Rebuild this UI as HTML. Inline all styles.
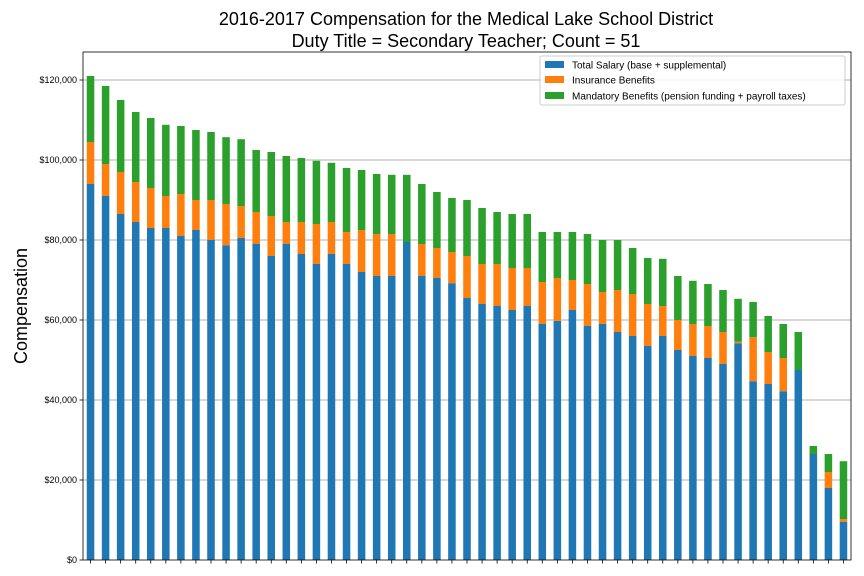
<!DOCTYPE html>
<html><head><meta charset="utf-8"><style>
body{margin:0;background:#fff;}
svg{display:block;font-family:"Liberation Sans","DejaVu Sans",sans-serif;}
</style></head><body>
<svg id="chart" width="864" height="576" viewBox="0 0 864 576">
<rect width="864" height="576" fill="#fff"/>
<text x="466" y="25" font-size="18" text-anchor="middle">2016-2017 Compensation for the Medical Lake School District</text>
<text x="466" y="47" font-size="18" text-anchor="middle">Duty Title = Secondary Teacher; Count = 51</text>
<text transform="translate(27,306) rotate(-90)" font-size="18" text-anchor="middle">Compensation</text>
<g id="grid"></g>
<g id="bars"></g>
<g id="axes"></g>
<g>
<rect x="540" y="56" width="305" height="49" fill="#fff" fill-opacity="0.8" stroke="#ccc" rx="2"/>
<rect x="545" y="61" width="19" height="7" fill="#1f77b4"/>
<text x="572" y="68.5" font-size="10">Total Salary (base + supplemental)</text>
<rect x="545" y="76" width="19" height="7" fill="#ff7f0e"/>
<text x="572" y="83.5" font-size="10">Insurance Benefits</text>
<rect x="545" y="92" width="19" height="7" fill="#2ca02c"/>
<text x="572" y="99.5" font-size="10">Mandatory Benefits (pension funding + payroll taxes)</text>
</g>
</svg>
<script>
const salary=[94000,91000,86500,84500,83000,83000,81000,82500,80000,78700,80500,79000,76000,79000,76500,74000,76500,74000,72000,71000,71000,79500,71000,70500,69200,65500,64000,63500,62500,63500,59000,59800,62500,58500,59000,57000,56000,53500,56000,52500,51000,50500,49000,54200,44700,44000,42200,47500,26500,18000,9500];
const insurance=[10500,8000,10500,10000,10000,8000,10500,7500,10000,10300,8000,8000,10000,5500,8000,10000,8000,8000,10500,10500,10500,0,8000,7500,7800,10500,10000,10500,10500,9500,10500,10700,7500,10500,8000,10500,10500,10500,7500,7500,8000,8000,8000,400,11000,8000,8300,0,0,4000,700];
const mandatory=[16500,19500,18000,17500,17500,17800,17000,17500,17000,16700,16700,15500,16000,16500,16000,15800,14800,16000,15000,15000,14800,16800,15000,14000,13500,14000,14000,13000,13500,13500,12500,11500,12000,12500,13000,12500,11500,11500,11800,11000,10800,10500,10500,10700,8800,9000,8500,9500,2000,4500,14500];
const yTicks=[0,20000,40000,60000,80000,100000,120000];
const yTickLabels=["$0","$20,000","$40,000","$60,000","$80,000","$100,000","$120,000"];

const NS="http://www.w3.org/2000/svg";
const L=83,R=851,T=52,B=560,YMAX=127000;
const n=salary.length;
const step=(R-L)/n;
function x(i){return L+(i+0.5)*step;}
function y(v){return B-(v/120000)*480;}
function mk(tag,attrs,parent){const e=document.createElementNS(NS,tag);for(const k in attrs)e.setAttribute(k,attrs[k]);parent.appendChild(e);return e;}
const grid=document.getElementById('grid'),bars=document.getElementById('bars'),axes=document.getElementById('axes');
yTicks.forEach((t,k)=>{
  if(t>0){const g=mk('line',{x1:L,x2:R,y1:y(t),y2:y(t),stroke:'#b0b0b0','stroke-width':1},grid);
  
  }
  const tk=mk('line',{x1:L-3.5,x2:L,y1:y(t),y2:y(t),stroke:'#000','stroke-width':0.8},axes);
  
  
  const tl=mk('text',{x:L-6,y:y(t)+3,'font-size':9,'text-anchor':'end'},axes);
  tl.textContent=yTickLabels[k];
  
  
});
const bw=step*0.5;
for(let i=0;i<n;i++){
  const segs=[[0,salary[i],'#1f77b4','salary'],[salary[i],salary[i]+insurance[i],'#ff7f0e','insurance'],[salary[i]+insurance[i],salary[i]+insurance[i]+mandatory[i],'#2ca02c','mandatory']];
  segs.forEach(s=>{
    const r=mk('rect',{x:x(i)-bw/2,y:y(s[1]),width:bw,height:Math.max(0,y(s[0])-y(s[1])),fill:s[2]},bars);
    
    
  });
  const tk=mk('line',{x1:x(i),x2:x(i),y1:B,y2:B+3.5,stroke:'#000','stroke-width':0.8},axes);
  
  
}
const frame=mk('rect',{x:L,y:T,width:R-L,height:B-T,fill:'none',stroke:'#000','stroke-width':0.8},axes);


</script>
</body></html>
